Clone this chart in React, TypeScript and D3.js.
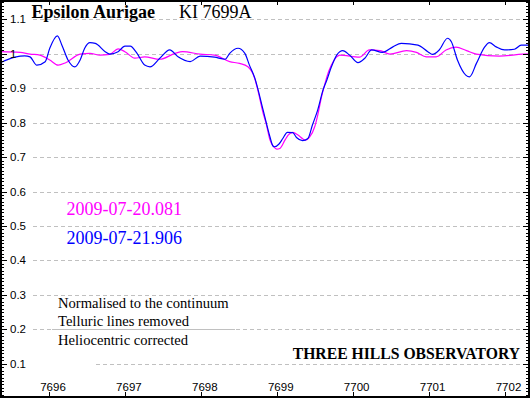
import React from 'react';
import { scaleLinear, line, curveMonotoneX, range } from 'd3';

// wavelength (Angstrom) and normalised flux
const waveA = [7695.36, 7695.62, 7695.75, 7695.88, 7696.01, 7696.12, 7696.22, 7696.41, 7696.54, 7696.67, 7696.8, 7696.91, 7697.0, 7697.13, 7697.26, 7697.46, 7697.66, 7697.76, 7697.99, 7698.18, 7698.38, 7698.51, 7698.62, 7698.71, 7698.75, 7698.82, 7698.86, 7698.91, 7698.96, 7699.0, 7699.04, 7699.11, 7699.15, 7699.21, 7699.28, 7699.35, 7699.38, 7699.43, 7699.5, 7699.54, 7699.59, 7699.63, 7699.66, 7699.72, 7699.79, 7699.83, 7700.09, 7700.22, 7700.36, 7700.49, 7700.71, 7700.84, 7700.97, 7701.1, 7701.23, 7701.36, 7701.5, 7701.63, 7701.93, 7702.24, 7702.33];
const fluxA = [1.006, 1.004, 0.999, 0.996, 0.982, 0.967, 0.974, 0.999, 1.001, 0.996, 0.998, 1.014, 1.006, 0.987, 0.991, 0.984, 1.001, 1.006, 0.999, 0.996, 0.977, 0.972, 0.962, 0.928, 0.895, 0.828, 0.798, 0.75, 0.73, 0.723, 0.725, 0.75, 0.764, 0.772, 0.764, 0.752, 0.749, 0.757, 0.788, 0.822, 0.875, 0.909, 0.933, 0.967, 0.991, 0.996, 0.99, 1.011, 1.009, 0.999, 1.009, 1.004, 0.991, 0.991, 1.011, 1.019, 1.009, 0.999, 0.993, 0.999, 1.0];

const waveB = [7695.36, 7695.55, 7695.68, 7695.75, 7695.84, 7695.95, 7696.01, 7696.11, 7696.17, 7696.25, 7696.34, 7696.41, 7696.47, 7696.54, 7696.61, 7696.74, 7696.8, 7696.91, 7697.0, 7697.07, 7697.16, 7697.26, 7697.33, 7697.46, 7697.59, 7697.7, 7697.86, 7697.99, 7698.18, 7698.32, 7698.38, 7698.49, 7698.58, 7698.64, 7698.71, 7698.82, 7698.91, 7698.95, 7698.97, 7699.03, 7699.08, 7699.14, 7699.21, 7699.26, 7699.34, 7699.41, 7699.47, 7699.54, 7699.61, 7699.66, 7699.72, 7699.79, 7699.87, 7699.96, 7700.07, 7700.16, 7700.25, 7700.39, 7700.53, 7700.64, 7700.86, 7700.99, 7701.05, 7701.14, 7701.25, 7701.3, 7701.38, 7701.49, 7701.54, 7701.63, 7701.74, 7701.8, 7701.89, 7702.0, 7702.13, 7702.22, 7702.33];
const fluxB = [0.974, 0.99, 0.994, 0.991, 0.967, 0.977, 1.016, 1.052, 1.025, 0.982, 0.962, 0.982, 1.016, 1.032, 1.03, 1.006, 0.999, 1.006, 1.022, 1.022, 1.001, 0.967, 0.962, 0.987, 1.011, 0.991, 0.977, 0.993, 0.99, 0.984, 1.001, 1.016, 1.001, 0.967, 0.93, 0.837, 0.759, 0.732, 0.73, 0.738, 0.754, 0.772, 0.771, 0.757, 0.748, 0.754, 0.793, 0.837, 0.895, 0.924, 0.962, 0.996, 1.009, 0.996, 0.974, 0.987, 1.011, 1.004, 1.02, 1.03, 1.025, 1.006, 0.998, 1.011, 1.045, 1.035, 0.982, 0.938, 0.933, 0.972, 1.02, 1.032, 1.02, 1.011, 1.013, 1.025, 1.025];

const xTicks = [7696, 7697, 7698, 7699, 7700, 7701, 7702];
const yTicks = [0.1, 0.2, 0.3, 0.4, 0.5, 0.6, 0.7, 0.8, 0.9, 1, 1.1];
const yTickLabels = ['0.1', '0.2', '0.3', '0.4', '0.5', '0.6', '0.7', '0.8', '0.9', '1', '1.1'];
const legend = ['2009-07-20.081', '2009-07-21.906'];
const notes = ['Normalised to the continuum', 'Telluric lines removed', 'Heliocentric corrected'];

const W = 531;
const H = 398;

export default function App() {
  const x = scaleLinear().domain([7696, 7702]).range([49, 504.5]);
  const y = scaleLinear().domain([0, 1.1]).range([398.2, 19.3]);

  const path = line<number>()
    .x((d, i) => x(d))
    .curve(curveMonotoneX);

  const lineA = path.y((d, i) => y(fluxA[i]))(waveA);
  const lineB = path.y((d, i) => y(fluxB[i]))(waveB);

  const minor = range(1, 116).map(i => i / 100);
  const axisFont = '"Liberation Sans", Arial, sans-serif';
  const serif = '"Liberation Serif", "Times New Roman", serif';

  return (
    <svg
      width={W}
      height={H}
      viewBox={`0 0 ${W} ${H}`}
      style={{ position: 'absolute', left: 0, top: 0, background: '#fff' }}
    >
      <rect x={0} y={0} width={W} height={H} fill="#fff" />

      {/* grid */}
      {yTicks.map(v => (
        <line
          key={v}
          x1={33}
          x2={528}
          y1={Math.round(y(v)) + 0.5}
          y2={Math.round(y(v)) + 0.5}
          stroke="#c0c0c0"
          strokeDasharray="4,3"
        />
      ))}
      <rect x={33} y={y(0.1) - 2} width={62} height={4} fill="#fff" />
      <line x1={52} x2={235} y1={Math.round(y(0.2)) + 0.5} y2={Math.round(y(0.2)) + 0.5} stroke="#c0c0c0" />

      {/* curves */}
      <path d={lineA || ''} fill="none" stroke="#ff00ff" strokeWidth={1.2} />
      <path d={lineB || ''} fill="none" stroke="#0000ff" strokeWidth={1.2} />

      {/* frame */}
      <rect x={1} y={1} width={528} height={396} fill="none" stroke="#000" strokeWidth={2} />

      {/* y ticks left and right */}
      {minor.map(v => {
        const major = Math.abs(v * 10 - Math.round(v * 10)) < 1e-6;
        const len = major ? 7 : 4;
        const yy = Math.round(y(v)) + 0.5;
        return (
          <g key={v}>
            <line x1={0} x2={len} y1={yy} y2={yy} stroke="#000" />
            <line x1={530 - len} x2={530} y1={yy} y2={yy} stroke="#000" />
          </g>
        );
      })}
      {yTicks.map((v, i) => (
        <text key={v} x={10} y={y(v) + 4} fontSize={11.5} fontFamily={axisFont} fill="#000">
          {yTickLabels[i]}
        </text>
      ))}

      {/* x ticks top and bottom */}
      {xTicks.map(t => {
        const xx = Math.round(x(t)) + 0.5;
        return (
          <g key={t}>
            <line x1={xx} x2={xx} y1={0} y2={5} stroke="#000" />
            <line x1={xx} x2={xx} y1={392} y2={398} stroke="#000" />
            <text x={x(t) + 4} y={391} textAnchor="middle" fontSize={11.5} fontFamily={axisFont} fill="#000">
              {t}
            </text>
          </g>
        );
      })}

      {/* title */}
      <text x={31.5} y={17.5} fontSize={18} fontFamily={serif} fontWeight="bold" fill="#000">
        Epsilon Aurigae
      </text>
      <text x={179} y={17.5} fontSize={18} fontFamily={serif} fill="#000">
        KI 7699A
      </text>

      {/* legend */}
      <text x={66.5} y={215} fontSize={18} fontFamily={serif} fill="#ff00ff">
        {legend[0]}
      </text>
      <text x={66.5} y={243.5} fontSize={18} fontFamily={serif} fill="#0000ff">
        {legend[1]}
      </text>

      {/* notes */}
      {notes.map((n, i) => (
        <text key={n} x={58} y={307.5 + i * 18.7} fontSize={14.6} fontFamily={serif} fill="#000">
          {n}
        </text>
      ))}

      <text x={520} y={358.5} textAnchor="end" fontSize={15.7} fontFamily={serif} fontWeight="bold" fill="#000">
        THREE HILLS OBSERVATORY
      </text>
    </svg>
  );
}
